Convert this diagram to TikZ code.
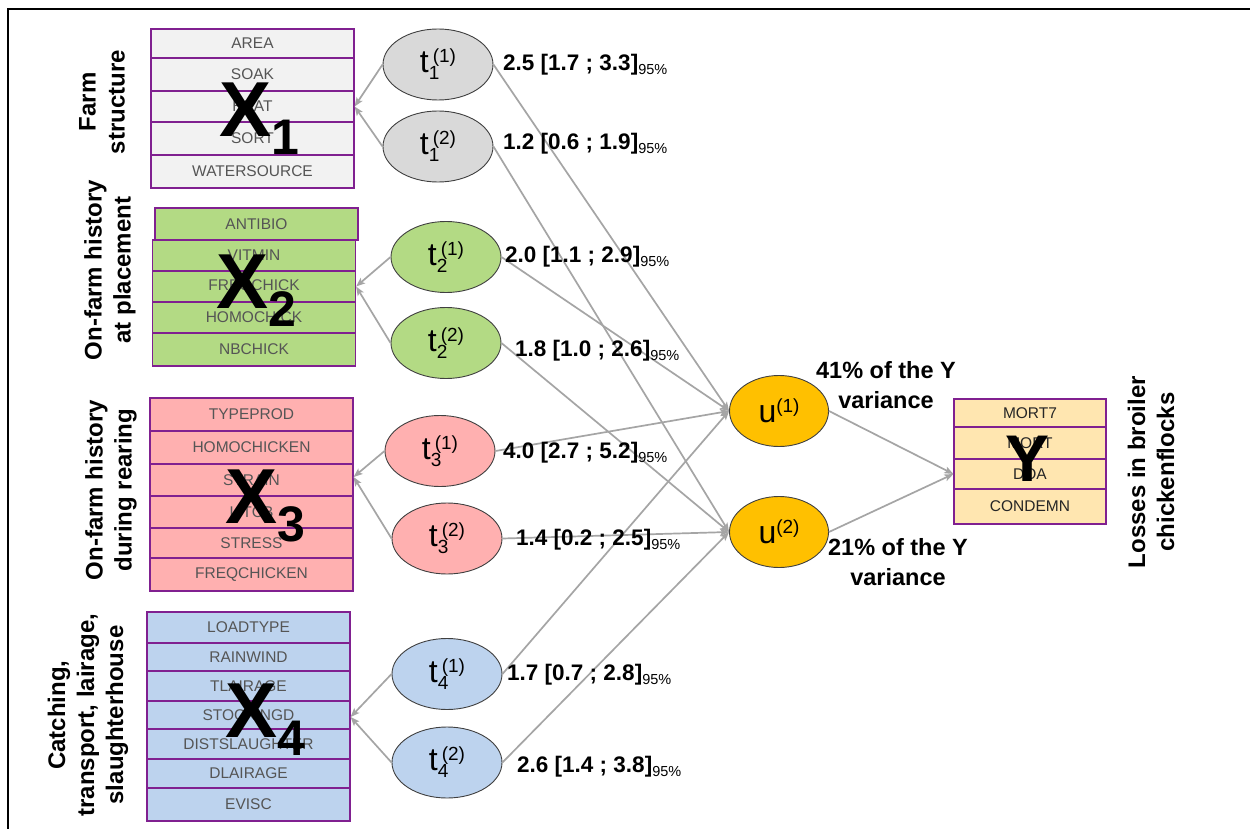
\documentclass[tikz,border=0pt]{standalone}
\usepackage{fontspec}
\setmainfont{Liberation Sans}
\usetikzlibrary{arrows.meta,shapes.geometric,backgrounds}
\definecolor{purp}{RGB}{128,32,144}
\definecolor{boxtxt}{RGB}{85,85,85}
\definecolor{graybox}{RGB}{242,242,242}
\definecolor{grayell}{RGB}{217,217,217}
\definecolor{greenc}{RGB}{179,218,132}
\definecolor{pinkc}{RGB}{255,176,176}
\definecolor{bluec}{RGB}{189,211,238}
\definecolor{yelbox}{RGB}{255,230,176}
\definecolor{orangec}{RGB}{255,192,0}
\definecolor{ellc}{RGB}{64,64,64}
\definecolor{linec}{RGB}{165,165,165}
\definecolor{shadowc}{RGB}{225,225,225}
\newcommand\tsym[3]{#1\makebox[0pt][l]{\fontsize{19}{19}\selectfont\raisebox{-7pt}{#2}}\hspace{4pt}{\fontsize{19}{19}\selectfont\raisebox{10pt}{(#3)}}}
\newcommand\usym[1]{u{\fontsize{19}{19}\selectfont\raisebox{10pt}{(#1)}}}
\newcommand\cival[1]{{\fontsize{22.5}{24}\bfseries #1}{\fontsize{14.5}{14.5}\selectfont\raisebox{-4pt}{95\%}}}
\newcommand\xlab[1]{{\fontsize{78}{78}\bfseries X}\raisebox{-18pt}{\fontsize{50}{50}\bfseries #1}}
\tikzset{
 rowbox/.style={draw=purp, line width=1.2pt, minimum width=203pt, inner sep=0pt, text=boxtxt, font=\fontsize{15.5}{16}\selectfont},
 lat/.style={ellipse, draw=ellc, line width=0.9pt, minimum width=110pt, minimum height=71pt, inner sep=0pt, font=\fontsize{32}{32}\selectfont},
 conn/.style={draw=linec, line width=1.7pt, -{Stealth[length=9pt,width=7pt,inset=2pt]}},
 side/.style={rotate=90, align=center, font=\fontsize{24}{29}\bfseries, inner sep=0pt},
 cilab/.style={anchor=base west, inner sep=0pt},
 varlab/.style={align=center, font=\fontsize{23.5}{30}\bfseries, inner sep=0pt},
 bigx/.style={anchor=base west, inner sep=0pt},
}
\begin{document}
\begin{tikzpicture}[x=1pt,y=-1pt]
\useasboundingbox (0,0) rectangle (1250,829);
\fill[white] (0,0) rectangle (1250,829);
\draw[line width=2.2pt] (8,829) -- (8,9) -- (1250,9);

% X1
\node[rowbox, fill=graybox, minimum height=29pt] (x1a) at (252.5,43.5) {AREA};
\node[rowbox, fill=graybox, minimum height=33pt] (x1b) at (252.5,74.5) {SOAK};
\node[rowbox, fill=graybox, minimum height=31pt] (x1c) at (252.5,106.5) {HEAT};
\node[rowbox, fill=graybox, minimum height=33pt] (x1d) at (252.5,138.5) {SORT};
\node[rowbox, fill=graybox, minimum height=33pt] (x1e) at (252.5,171.5) {WATERSOURCE};
% X2
\node[rowbox, fill=greenc, minimum height=32pt] (x2a) at (256.5,224) {ANTIBIO};
\node[rowbox, fill=greenc, minimum height=31pt] (x2b) at (254,255.5) {VITMIN};
\node[rowbox, fill=greenc, minimum height=31pt] (x2c) at (254,286.5) {FREQCHICK};
\node[rowbox, fill=greenc, minimum height=31pt] (x2d) at (254,317.5) {HOMOCHICK};
\node[rowbox, fill=greenc, minimum height=33pt] (x2e) at (254,349.5) {NBCHICK};
% X3
\node[rowbox, fill=pinkc, minimum height=33pt] (x3a) at (251.5,414.5) {TYPEPROD};
\node[rowbox, fill=pinkc, minimum height=33pt] (x3b) at (251.5,447.5) {HOMOCHICKEN};
\node[rowbox, fill=pinkc, minimum height=32pt] (x3c) at (251.5,480) {STRAIN};
\node[rowbox, fill=pinkc, minimum height=32pt] (x3d) at (251.5,512) {LITCB};
\node[rowbox, fill=pinkc, minimum height=30pt] (x3e) at (251.5,543) {STRESS};
\node[rowbox, fill=pinkc, minimum height=33pt] (x3f) at (251.5,574.5) {FREQCHICKEN};
% X4
\node[rowbox, fill=bluec, minimum height=31pt] (x4a) at (248.5,627.5) {LOADTYPE};
\node[rowbox, fill=bluec, minimum height=28pt] (x4b) at (248.5,657) {RAINWIND};
\node[rowbox, fill=bluec, minimum height=30pt] (x4c) at (248.5,686) {TLAIRAGE};
\node[rowbox, fill=bluec, minimum height=28pt] (x4d) at (248.5,715) {STOCKINGD};
\node[rowbox, fill=bluec, minimum height=30pt] (x4e) at (248.5,744) {DISTSLAUGHTER};
\node[rowbox, fill=bluec, minimum height=29pt] (x4f) at (248.5,773.5) {DLAIRAGE};
\node[rowbox, fill=bluec, minimum height=33pt] (x4g) at (248.5,804.5) {EVISC};
% Y
\node[rowbox, fill=yelbox, minimum width=152pt, minimum height=28pt, text=black!85] (y1) at (1030,413) {MORT7};
\node[rowbox, fill=yelbox, minimum width=152pt, minimum height=32pt, text=black!85] (y2) at (1030,443) {MORT};
\node[rowbox, fill=yelbox, minimum width=152pt, minimum height=30pt, text=black!85] (y3) at (1030,474) {DOA};
\node[rowbox, fill=yelbox, minimum width=152pt, minimum height=35pt, text=black!85] (y4) at (1030,506.5) {CONDEMN};

\begin{scope}[on background layer]
\fill[shadowc] ([shift={(3,3)}]x1a.north west) rectangle ([shift={(3,3)}]x1e.south east);
\fill[shadowc] ([shift={(3,3)}]x2a.north west) rectangle ([shift={(3,3)}]x2e.south east);
\fill[shadowc] ([shift={(3,3)}]x3a.north west) rectangle ([shift={(3,3)}]x3f.south east);
\fill[shadowc] ([shift={(3,3)}]x4a.north west) rectangle ([shift={(3,3)}]x4g.south east);
\fill[shadowc] ([shift={(3,3)}]y1.north west) rectangle ([shift={(3,3)}]y4.south east);
\end{scope}

% latent ellipses
\node[lat, fill=grayell] (t11) at (438,64.5) {\tsym{t}{1}{1}};
\node[lat, fill=grayell] (t12) at (438,146.5) {\tsym{t}{1}{2}};
\node[lat, fill=greenc] (t21) at (446,257) {\tsym{t}{2}{1}};
\node[lat, fill=greenc] (t22) at (446,343) {\tsym{t}{2}{2}};
\node[lat, fill=pinkc] (t31) at (440,451) {\tsym{t}{3}{1}};
\node[lat, fill=pinkc] (t32) at (447,538.5) {\tsym{t}{3}{2}};
\node[lat, fill=bluec] (t41) at (447,674) {\tsym{t}{4}{1}};
\node[lat, fill=bluec] (t42) at (447,762.5) {\tsym{t}{4}{2}};
\node[lat, fill=orangec, minimum width=99pt] (u1) at (779,411) {\usym{1}};
\node[lat, fill=orangec, minimum width=99pt] (u2) at (779,532) {\usym{2}};

% connectors
\coordinate (x3in) at ([yshift=3pt]x3c.east);
\coordinate (x4in) at ([yshift=-2pt]x4d.east);
\draw[conn] (t11.west) -- (x1c.east);
\draw[conn] (t12.west) -- (x1c.east);
\draw[conn] (t21.west) -- (x2c.east);
\draw[conn] (t22.west) -- (x2c.east);
\draw[conn] (t31.west) -- (x3in);
\draw[conn] (t32.west) -- (x3in);
\draw[conn] (t41.west) -- (x4in);
\draw[conn] (t42.west) -- (x4in);
\draw[conn] (t11.east) -- (u1.west);
\draw[conn] (t21.east) -- (u1.west);
\draw[conn] (t31.east) -- (u1.west);
\draw[conn] (t41.east) -- (u1.west);
\draw[conn] (t12.east) -- (u2.west);
\draw[conn] (t22.east) -- (u2.west);
\draw[conn] (t32.east) -- (u2.west);
\draw[conn] (t42.east) -- (u2.west);
\draw[conn] (u1.east) -- (y3.west);
\draw[conn] (u2.east) -- (y3.west);

% big labels
\node[bigx] (lx1) at (219,137) {\xlab{1}};
\node[bigx] (lx2) at (216,308) {\xlab{2}};
\node[bigx] (lx3) at (225,523) {\xlab{3}};
\node[bigx] (lx4) at (225,737) {\xlab{4}};
\node[bigx] (ly) at (1005,481) {\fontsize{66}{66}\bfseries Y};

% CI labels
\node[cilab] (c11) at (503,71) {\cival{2.5 [1.7 ; 3.3]}};
\node[cilab] (c12) at (503,150) {\cival{1.2 [0.6 ; 1.9]}};
\node[cilab] (c21) at (505,262) {\cival{2.0 [1.1 ; 2.9]}};
\node[cilab] (c22) at (515,356) {\cival{1.8 [1.0 ; 2.6]}};
\node[cilab] (c31) at (503,458) {\cival{4.0 [2.7 ; 5.2]}};
\node[cilab] (c32) at (516,545) {\cival{1.4 [0.2 ; 2.5]}};
\node[cilab] (c41) at (507,680) {\cival{1.7 [0.7 ; 2.8]}};
\node[cilab] (c42) at (517,772) {\cival{2.6 [1.4 ; 3.8]}};

% variance labels
\node[varlab] (v1) at (886,385) {41\% of the Y\\variance};
\node[varlab] (v2) at (898,562) {21\% of the Y\\variance};

% side labels
\node[side] (s1) at (102,102) {Farm\\structure};
\node[side] (s2) at (110,270) {On-farm history\\at placement};
\node[side] (s3) at (111,490) {On-farm history\\during rearing};
\node[side] (s4) at (88,715) {Catching,\\transport, lairage,\\slaughterhouse};
\node[side] (s5) at (1151,472) {Losses in broiler\\chickenflocks};
\end{tikzpicture}
\end{document}
